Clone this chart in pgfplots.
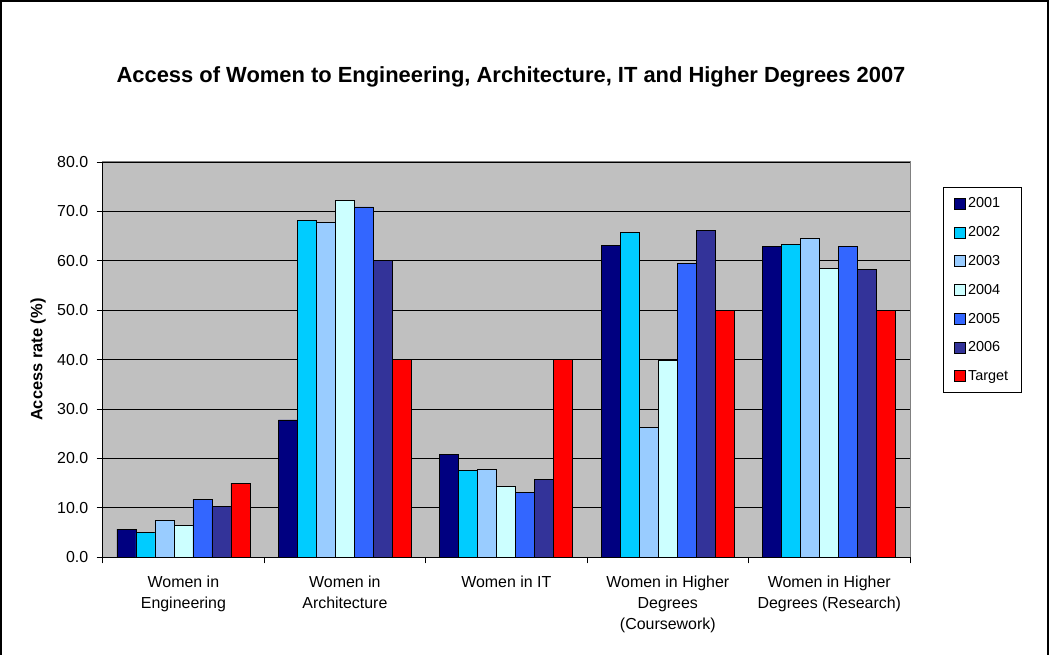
\documentclass[border=0pt]{standalone}
\usepackage{pgfplots}
\pgfplotsset{compat=1.18}
\usepackage{pgfplotstable}
\usepackage{fontspec}
\setmainfont{Liberation Sans}
\definecolor{cA}{HTML}{000080}
\definecolor{cB}{HTML}{00CCFF}
\definecolor{cC}{HTML}{99CCFF}
\definecolor{cD}{HTML}{CCFFFF}
\definecolor{cE}{HTML}{3366FF}
\definecolor{cF}{HTML}{333399}
\definecolor{cG}{HTML}{FF0000}
\definecolor{bg}{HTML}{C0C0C0}
\pgfplotstableread{
idx y2001 y2002 y2003 y2004 y2005 y2006 target
0 5.7 5.0 7.5 6.5 11.7 10.2 15.0
1 27.8 68.2 67.8 72.2 70.9 60.0 40.0
2 20.8 17.5 17.7 14.4 13.2 15.8 40.0
3 63.2 65.8 26.2 39.9 59.5 66.2 50.0
4 63.0 63.4 64.5 58.5 62.9 58.2 50.0
}\datatable
\begin{document}
\begin{tikzpicture}
\path[use as bounding box] (0bp,0bp) rectangle (1049bp,655bp);
\draw[line width=1.5bp] (1bp,0bp) -- (1bp,654bp) -- (1048bp,654bp) -- (1048bp,0bp);
\node[font=\fontsize{22}{24}\selectfont\bfseries] at (511bp,578bp) {Access of Women to Engineering, Architecture, IT and Higher Degrees 2007};
\begin{axis}[
  at={(102.7bp,97.7bp)}, anchor=south west,
  scale only axis, width=807.3bp, height=395.3bp,
  ybar=0pt, bar width=19bp,
  xmin=-0.5, xmax=4.5, ymin=0, ymax=80,
  ytick={0,10,...,80},
  xtick={-0.5,0.5,...,4.5},
  x tick label as interval,
  xticklabels={Women in\\Engineering, Women in\\Architecture, Women in IT, Women in Higher\\Degrees\\(Coursework), Women in Higher\\Degrees (Research)},
  xticklabel style={align=center, font=\fontsize{16}{21}\selectfont, anchor=north, yshift=-9bp},
  yticklabel style={font=\fontsize{16}{19}\selectfont, xshift=-5bp},
  /pgf/number format/assume math mode=true,
  yticklabel={\pgfmathprintnumber[fixed,fixed zerofill,precision=1]{\tick}},
  ymajorgrids, grid style={black, line width=0.8bp},
  axis background/.style={fill=bg, draw=gray, line width=1bp},
  axis x line*=bottom, axis y line*=left,
  axis line style={black, line width=0.8bp, -},
  tick align=outside, major tick length=6bp,
  tick style={black, line width=0.8bp},
  ylabel={\bfseries Access rate (\%)},
  ylabel style={font=\fontsize{16.5}{19}\selectfont, at={(axis description cs:-0.080,0.5)}, anchor=center},
  legend style={at={(axis description cs:1.0409,0.9368)}, anchor=north west,
    draw=black, line width=0.8bp, fill=white, font=\fontsize{14.5}{17}\selectfont,
    row sep=13.2bp, inner xsep=11bp, inner ysep=8.5bp,
    legend cell align=left},
  legend image code/.code={\draw[#1, draw=black, line width=0.6bp] (0bp,-5.5bp) rectangle (11bp,5.5bp);},
  every axis plot/.append style={draw=black, line width=0.8bp},
]
\addplot[fill=cA] table[x=idx,y=y2001]{\datatable};
\addplot[fill=cB] table[x=idx,y=y2002]{\datatable};
\addplot[fill=cC] table[x=idx,y=y2003]{\datatable};
\addplot[fill=cD] table[x=idx,y=y2004]{\datatable};
\addplot[fill=cE] table[x=idx,y=y2005]{\datatable};
\addplot[fill=cF] table[x=idx,y=y2006]{\datatable};
\addplot[fill=cG] table[x=idx,y=target]{\datatable};
\legend{2001,2002,2003,2004,2005,2006,Target}
\end{axis}
\end{tikzpicture}
\end{document}
